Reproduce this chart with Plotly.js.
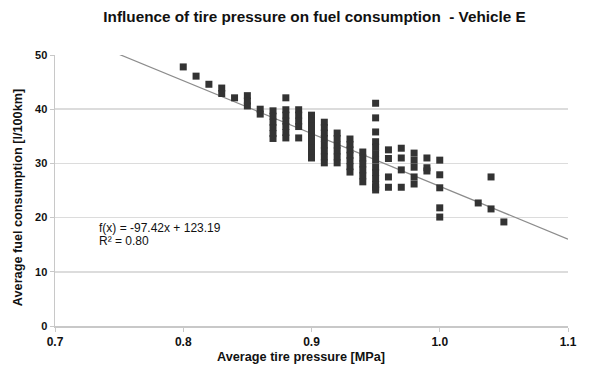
<!DOCTYPE html>
<html><head><meta charset="utf-8">
<script src="https://cdn.plot.ly/plotly-3.0.1.min.js"></script>
<style>html,body{margin:0;padding:0;background:#fff}</style>
</head><body><div id="chart" style="width:605px;height:376px"></div>
<script>
// Measurements: tire pressure [MPa] and fuel consumption [l/100km]
const pressure = [
  0.80, 0.81, 0.82, 0.83, 0.83, 0.84,
  0.85, 0.85, 0.85, 0.86, 0.86,
  0.87, 0.87, 0.87, 0.87, 0.87, 0.87,
  0.88, 0.88, 0.88, 0.88, 0.88, 0.88, 0.88,
  0.89, 0.89, 0.89, 0.89, 0.89,
  0.90, 0.90, 0.90, 0.90, 0.90, 0.90, 0.90, 0.90, 0.90,
  0.91, 0.91, 0.91, 0.91, 0.91, 0.91, 0.91, 0.91,
  0.92, 0.92, 0.92, 0.92, 0.92, 0.92,
  0.93, 0.93, 0.93, 0.93, 0.93, 0.93, 0.93,
  0.94, 0.94, 0.94, 0.94, 0.94, 0.94,
  0.95, 0.95, 0.95, 0.95, 0.95, 0.95, 0.95, 0.95, 0.95, 0.95, 0.95, 0.95, 0.95,
  0.96, 0.96, 0.96, 0.96,
  0.97, 0.97, 0.97, 0.97,
  0.98, 0.98, 0.98, 0.98, 0.98,
  0.99, 0.99, 0.99,
  1.00, 1.00, 1.00, 1.00, 1.00,
  1.03, 1.04, 1.04, 1.05
];
const consumption = [
  47.8, 46.1, 44.6, 43.9, 42.9, 42.1,
  42.5, 41.5, 40.6, 40.0, 39.1,
  39.7, 38.7, 37.6, 36.6, 35.5, 34.6,
  42.1, 39.9, 38.9, 37.8, 36.8, 35.7, 34.7,
  39.9, 38.9, 37.8, 36.8, 34.7,
  38.9, 37.9, 36.9, 35.9, 34.9, 33.9, 32.9, 31.9, 31.0,
  37.6, 36.6, 35.6, 34.6, 33.4, 32.3, 31.2, 30.1,
  35.6, 34.6, 33.4, 32.3, 31.2, 30.1,
  34.5, 33.5, 32.5, 31.5, 30.5, 29.4, 28.4,
  32.1, 31.0, 29.9, 28.8, 27.7, 26.6,
  41.1, 38.4, 35.8, 34.0, 33.0, 31.8, 30.6, 29.3, 28.3, 27.2, 26.1, 25.1, 25.6,
  32.5, 30.9, 27.5, 25.6,
  32.8, 31.0, 28.8, 25.6,
  31.9, 30.6, 29.3, 27.5, 26.2,
  31.0, 29.2, 28.6,
  30.6, 27.9, 25.5, 21.8, 20.1,
  22.7, 27.5, 21.6, 19.2
];
// Linear regression reported on the chart
const slope = -97.42;
const intercept = 123.19;
const fitRange = [0.75, 1.1];
const xTicks = [0.7, 0.8, 0.9, 1.0, 1.1];
const yTicks = [0, 10, 20, 30, 40, 50];

const fitY = fitRange.map(x => slope * x + intercept);
const FONT = 'Liberation Sans, Arial, sans-serif';

const traces = [
  {x: fitRange, y: fitY, mode: 'lines', type: 'scatter',
   line: {color: '#8c8c8c', width: 1.2}, hoverinfo: 'skip', showlegend: false},
  {x: pressure, y: consumption, mode: 'markers', type: 'scatter',
   marker: {symbol: 'square', size: 7, color: '#333333'}, showlegend: false}
];

const layout = {
  width: 605, height: 376,
  margin: {l: 55, r: 37, t: 55, b: 50},
  paper_bgcolor: '#ffffff', plot_bgcolor: '#ffffff',
  title: {text: '<b>Influence of tire pressure on fuel consumption  - Vehicle E</b>',
          font: {family: FONT, size: 15.3, color: '#111'}, x: 0.52, xanchor: 'center', y: 0.955, yanchor: 'middle'},
  xaxis: {range: [0.7, 1.1], tickvals: xTicks, ticktext: xTicks.map(v => '<b>' + v.toFixed(1) + '</b>'),
          showgrid: false, zeroline: false, showline: true, linecolor: '#c8c8c8', linewidth: 1.5,
          ticks: 'outside', ticklen: 4, tickcolor: '#c8c8c8',
          tickfont: {family: FONT, size: 12, color: '#111'}},
  yaxis: {range: [0, 50], tickvals: yTicks, ticktext: yTicks.map(v => '<b>' + v + '</b>'),
          showgrid: true, gridcolor: '#dcdcdc', gridwidth: 1.5, zeroline: false,
          showline: true, linecolor: '#c8c8c8', linewidth: 1.5,
          ticks: 'outside', ticklen: 4, tickcolor: '#c8c8c8',
          tickfont: {family: FONT, size: 11, color: '#111'}},
  annotations: [
    {x: 0.4795, y: -0.114, xref: 'paper', yref: 'paper', xanchor: 'center', yanchor: 'middle', showarrow: false,
     text: '<b>Average tire pressure [MPa]</b>', font: {family: FONT, size: 12.7, color: '#111'}},
    {x: -0.072, y: 0.472, xref: 'paper', yref: 'paper', xanchor: 'center', yanchor: 'middle', showarrow: false,
     textangle: -90, text: '<b>Average fuel consumption [l/100km]</b>', font: {family: FONT, size: 12.7, color: '#111'}},
    {x: 0.733, y: 18.1, xref: 'x', yref: 'y', xanchor: 'left', yanchor: 'middle', showarrow: false,
     text: 'f(x) = -97.42x + 123.19', font: {family: FONT, size: 12, color: '#111'}},
    {x: 0.733, y: 15.6, xref: 'x', yref: 'y', xanchor: 'left', yanchor: 'middle', showarrow: false,
     text: 'R² = 0.80', font: {family: FONT, size: 12, color: '#111'}}
  ]
};
Plotly.newPlot('chart', traces, layout, {displayModeBar: false, staticPlot: true});
</script></body></html>
